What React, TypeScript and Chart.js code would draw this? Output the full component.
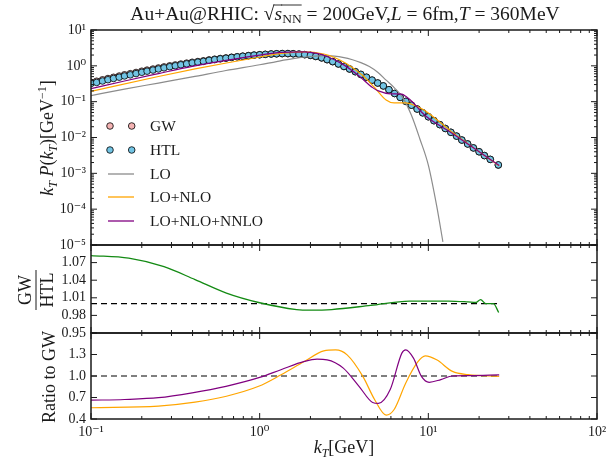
import React, { useEffect, useRef } from 'react';
import { Chart, registerables } from 'chart.js';

Chart.register(...registerables);

const SERIF = "'Liberation Serif', 'DejaVu Serif', serif";
const INK = '#1a1a1a';

// ---------- data ----------
const kT = [0.100, 0.108, 0.117, 0.126, 0.136, 0.147, 0.158, 0.171, 0.185, 0.200, 0.215, 0.233, 0.251, 0.271, 0.293, 0.316, 0.341, 0.369, 0.398, 0.430, 0.464, 0.501, 0.541, 0.584, 0.631, 0.681, 0.736, 0.794, 0.858, 0.926, 1.00, 1.08, 1.17, 1.26, 1.36, 1.47, 1.58, 1.71, 1.85, 2.00, 2.15, 2.33, 2.51, 2.71, 2.93, 3.16, 3.41, 3.69, 3.98, 4.30, 4.64, 5.01, 5.41, 5.84, 6.31, 6.81, 7.36, 7.94, 8.58, 9.26, 10.0, 10.8, 11.7, 12.6, 13.6, 14.7, 15.8, 17.1, 18.5, 20.0, 21.5, 23.3, 26.0];
const gw = [0.347, 0.372, 0.407, 0.442, 0.479, 0.519, 0.562, 0.603, 0.653, 0.708,
  0.759, 0.813, 0.871, 0.933, 1.000, 1.059, 1.122, 1.189, 1.259, 1.318,
  1.380, 1.462, 1.531, 1.603, 1.660, 1.738, 1.799, 1.862, 1.928, 1.995,
  2.042, 2.089, 2.138, 2.163, 2.188, 2.188, 2.163, 2.113, 2.042, 1.950,
  1.820, 1.660, 1.479, 1.303, 1.122, 0.955, 0.813, 0.684, 0.575, 0.479,
  0.398, 0.331, 0.275, 0.216, 0.169, 0.132, 0.102, 0.0800, 0.0625, 0.0490,
  0.0380, 0.0295, 0.0229, 0.0179, 0.0140, 0.01096, 0.00851, 0.00661, 0.00513, 0.00401,
  0.00313, 0.00245, 0.00170];
const htl = [0.3207, 0.3441, 0.3769, 0.4096, 0.4441, 0.4814, 0.5215, 0.5599, 0.6074, 0.6598,
  0.7087, 0.7612, 0.8171, 0.8777, 0.9443, 1.0038, 1.0676, 1.1356, 1.2071, 1.2685,
  1.3333, 1.4180, 1.4907, 1.5670, 1.6306, 1.7123, 1.7794, 1.8472, 1.9165, 1.9871,
  2.0379, 2.0911, 2.1444, 2.1739, 2.2034, 2.2056, 2.1826, 2.1343, 2.0647, 1.9717,
  1.8402, 1.6768, 1.4939, 1.3162, 1.1322, 0.9627, 0.8187, 0.6881, 0.5779, 0.4809,
  0.3992, 0.3317, 0.2751, 0.2160, 0.1688, 0.1317, 0.1017, 0.07964, 0.06222, 0.04878,
  0.03783, 0.02937, 0.02280, 0.01782, 0.01394, 0.01092, 0.00848, 0.00659, 0.00512, 0.00399,
  0.00313, 0.00245, 0.00172];

const loX = [0.1, 0.158, 0.251, 0.398, 0.631, 1.0, 1.26, 1.58, 2.0, 2.51, 3.16, 3.55, 3.98, 4.47, 5.01, 5.62, 6.31, 7.08, 7.94, 8.91, 10.0, 11.2, 12.2];
const loY = [0.148, 0.224, 0.331, 0.49, 0.741, 1.072, 1.318, 1.585, 1.82, 1.928, 1.70, 1.479, 1.23, 0.955, 0.661, 0.398, 0.24, 0.126, 0.0417, 0.00912, 0.0017, 1.26e-4, 1.23e-5];

const nloX = [0.1, 0.251, 0.414, 0.635, 0.986, 1.34, 1.84, 2.40, 2.82, 3.30, 4.09, 4.80, 5.62, 6.27, 7.35, 8.61, 9.59, 11.2, 13.9, 17.2, 26.3];
const nloY = [0.193, 0.505, 0.818, 1.197, 1.738, 2.228, 2.46, 2.138, 1.66, 1.127, 0.535, 0.249, 0.1117, 0.0923, 0.0931, 0.0733, 0.0555, 0.0318, 0.01384, 0.00664, 0.001626];
const nloRatio = [0.557, 0.58, 0.635, 0.718, 0.856, 1.018, 1.203, 1.35, 1.364, 1.295, 0.995, 0.672, 0.455, 0.533, 0.903, 1.189, 1.28, 1.226, 1.064, 1.018, 0.995];

const nnloX = [0.1, 0.158, 0.251, 0.398, 0.631, 1.0, 1.337, 1.841, 2.188, 2.512, 3.133, 3.882, 4.677, 5.058, 5.943, 6.966, 7.345, 8.166, 9.099, 10.12, 11.86, 13.90, 17.78, 26.3];
const nnloY = [0.2296, 0.3776, 0.607, 0.964, 1.42, 2.0, 2.38, 2.46, 2.22, 1.814, 1.08, 0.522, 0.2466, 0.1995, 0.166, 0.1618, 0.1416, 0.0918, 0.0516, 0.0334, 0.02075, 0.0130, 0.00586, 0.00166];
const nnloRatio = [0.662, 0.672, 0.697, 0.765, 0.856, 0.98, 1.088, 1.203, 1.235, 1.226, 1.11, 0.856, 0.63, 0.617, 0.81, 1.319, 1.365, 1.249, 0.995, 0.912, 0.95, 1.0, 1.005, 1.015];

const ratioX = [0.1, 0.1675, 0.271, 0.414, 0.635, 0.986, 1.656, 1.995, 2.673, 4.55, 7.745, 13.18, 17.18, 19.14, 20.42, 21.88, 24.32, 26.12];
const gwOverHtl = [1.082, 1.0775, 1.063, 1.041, 1.018, 1.002, 0.990, 0.989, 0.990, 0.997, 1.0045, 1.0045, 1.003, 1.002, 1.0068, 1.0, 1.0, 0.985];

const refX = [0.1, 26.3];
const refY = [1, 1];

const xTicks = [0.1, 1, 10, 100];
const xTickLabels = ['10⁻¹', '10⁰', '10¹', '10²'];
const topTicks = [1e-5, 1e-4, 1e-3, 1e-2, 1e-1, 1, 10];
const topTickLabels = ['10⁻⁵', '10⁻⁴', '10⁻³', '10⁻²', '10⁻¹', '10⁰', '10¹'];
const midTicks = [0.95, 0.98, 1.01, 1.04, 1.07, 1.10];
const midTickLabels = ['0.95', '0.98', '1.01', '1.04', '1.07', ''];
const botTicks = [0.4, 0.7, 1.0, 1.3, 1.6];
const botTickLabels = ['0.4', '0.7', '1.0', '1.3', ''];

const C_GW = '#f4b3b3';
const C_HTL = '#72c4e4';
const C_LO = '#8c8c8c';
const C_NLO = '#ffa500';
const C_NNLO = '#800080';
const C_GREEN = '#138a13';

// ---------- helpers ----------
const xy = (xs: number[], ys: number[]) => xs.map((x, i) => ({ x, y: ys[i] }));

type Piece = { t: string; s: number; it?: boolean; dy?: number; over?: boolean };
const fontOf = (p: Piece) => `${p.it ? 'italic ' : ''}${p.s}px ${SERIF}`;

function drawRich(ctx: CanvasRenderingContext2D, pieces: Piece[], cx: number, baseY: number, overY?: number) {
  const widths = pieces.map((p) => { ctx.font = fontOf(p); return ctx.measureText(p.t).width; });
  const total = widths.reduce((a, b) => a + b, 0);
  let x = cx - total / 2;
  ctx.textAlign = 'left';
  ctx.textBaseline = 'alphabetic';
  ctx.fillStyle = INK;
  pieces.forEach((p, i) => {
    ctx.font = fontOf(p);
    ctx.fillText(p.t, x, baseY + (p.dy || 0));
    if (p.over && overY !== undefined) {
      ctx.save();
      ctx.strokeStyle = INK; ctx.lineWidth = 0.9;
      ctx.beginPath(); ctx.moveTo(x - 1, baseY - overY); ctx.lineTo(x + widths[i], baseY - overY); ctx.stroke();
      ctx.restore();
    }
    x += widths[i];
  });
}

function minorLog(lo: number, hi: number) {
  const out: number[] = [];
  for (let e = lo; e < hi; e++) for (let k = 2; k <= 9; k++) out.push(k * Math.pow(10, e));
  return out;
}

function framePlugin(yMajor: number[], yMinor: number[]) {
  return {
    id: 'frame',
    afterDatasetsDraw(chart: any) {
      const { ctx, chartArea: a, scales } = chart;
      const xs = scales.x, ys = scales.y;
      ctx.save();
      ctx.strokeStyle = INK;
      ctx.lineWidth = 1;
      const seg = (x1: number, y1: number, x2: number, y2: number) => { ctx.beginPath(); ctx.moveTo(x1, y1); ctx.lineTo(x2, y2); ctx.stroke(); };
      const xt = (v: number, len: number) => {
        const p = xs.getPixelForValue(v);
        seg(p, a.bottom, p, a.bottom - len); seg(p, a.top, p, a.top + len);
      };
      const yt = (v: number, len: number) => {
        const p = ys.getPixelForValue(v);
        seg(a.left, p, a.left + len, p); seg(a.right, p, a.right - len, p);
      };
      xTicks.forEach((v) => xt(v, 6));
      minorLog(-1, 2).forEach((v) => xt(v, 3));
      yMajor.forEach((v) => yt(v, 6));
      yMinor.forEach((v) => yt(v, 3));
      ctx.lineWidth = 1.5;
      ctx.strokeRect(a.left, a.top, a.right - a.left, a.bottom - a.top);
      ctx.restore();
    },
  };
}

function xScale(show: boolean) {
  return {
    type: 'logarithmic', min: 0.1, max: 100, display: show,
    grid: { display: false, drawTicks: false }, border: { display: false },
    afterBuildTicks: (s: any) => { s.ticks = xTicks.map((v) => ({ value: v })); },
    afterFit: (s: any) => { s.height = show ? 40 : 0; },
    ticks: {
      font: { family: SERIF, size: 14 }, color: INK, padding: 5, autoSkip: false, maxRotation: 0,
      callback: (_v: any, i: number) => xTickLabels[i],
    },
  };
}

function yScale(type: string, min: number, max: number, ticks: number[], labels: string[]) {
  return {
    type, min, max,
    grid: { display: false, drawTicks: false }, border: { display: false },
    afterBuildTicks: (s: any) => { s.ticks = ticks.map((v) => ({ value: v })); },
    afterFit: (s: any) => { s.width = 91; },
    ticks: {
      font: { family: SERIF, size: 14 }, color: INK, padding: 5, autoSkip: false,
      callback: (_v: any, i: number) => labels[i],
    },
  };
}

function baseOptions(padding: any, scales: any) {
  return {
    responsive: false, animation: false, devicePixelRatio: 1, events: [],
    layout: { padding },
    plugins: { legend: { display: false }, tooltip: { enabled: false }, title: { display: false } },
    scales,
  };
}

const lineDs = (label: string, data: any[], color: string, width = 1.2, order = 0, dash: number[] = []) => ({
  label, data, borderColor: color, backgroundColor: color, borderWidth: width, pointRadius: 0,
  cubicInterpolationMode: 'monotone', fill: false, order, borderDash: dash,
});
const pointDs = (label: string, data: any[], color: string, order: number) => ({
  label, data, showLine: false, pointRadius: 3.3, pointBorderWidth: 0.8,
  pointBackgroundColor: color, pointBorderColor: '#000', borderColor: '#000', backgroundColor: color, order,
});

// ---------- text plugins ----------
const topText = {
  id: 'topText',
  afterDraw(chart: any) {
    const ctx: CanvasRenderingContext2D = chart.ctx;
    ctx.save();
    // title
    drawRich(ctx, [
      { t: 'Au+Au@RHIC: ', s: 19.5 },
      { t: '√', s: 19.5 },
      { t: 's', s: 19.5, it: true, over: true },
      { t: 'NN', s: 13.5, dy: 3, over: true },
      { t: ' = 200GeV,', s: 19.5 },
      { t: 'L', s: 19.5, it: true },
      { t: ' = 6fm,', s: 19.5 },
      { t: 'T', s: 19.5, it: true },
      { t: ' = 360MeV', s: 19.5 },
    ], 345, 20, 15);
    // legend
    const mk = (x: number, y: number, c: string) => {
      ctx.beginPath(); ctx.arc(x, y, 3.3, 0, Math.PI * 2); ctx.fillStyle = c; ctx.fill();
      ctx.lineWidth = 0.8; ctx.strokeStyle = '#000'; ctx.stroke();
    };
    mk(110, 126, C_GW); mk(131.7, 126, C_GW);
    mk(110, 150, C_HTL); mk(131.7, 150, C_HTL);
    const ln = (y: number, c: string) => {
      ctx.beginPath(); ctx.moveTo(108, y); ctx.lineTo(134, y); ctx.strokeStyle = c; ctx.lineWidth = 1.3; ctx.stroke();
    };
    ln(174, C_LO); ln(197, C_NLO); ln(221, C_NNLO);
    ctx.fillStyle = INK; ctx.font = `15.5px ${SERIF}`; ctx.textAlign = 'left'; ctx.textBaseline = 'middle';
    [['GW', 126], ['HTL', 150], ['LO', 174], ['LO+NLO', 197], ['LO+NLO+NNLO', 221]].forEach(([t, y]) => {
      ctx.fillText(t as string, 150, (y as number) + 1);
    });
    // y title
    ctx.translate(53, 138);
    ctx.rotate(-Math.PI / 2);
    drawRich(ctx, [
      { t: 'k', s: 18, it: true },
      { t: 'T', s: 12, it: true, dy: 4 },
      { t: ' P', s: 18, it: true },
      { t: '(', s: 18 },
      { t: 'k', s: 18, it: true },
      { t: 'T', s: 12, it: true, dy: 4 },
      { t: ')[GeV', s: 18 },
      { t: '−1', s: 12, dy: -7 },
      { t: ']', s: 18 },
    ], 0, 0);
    ctx.restore();
  },
};

const midText = {
  id: 'midText',
  afterDraw(chart: any) {
    const ctx: CanvasRenderingContext2D = chart.ctx;
    ctx.save();
    ctx.translate(36, 290);
    ctx.rotate(-Math.PI / 2);
    drawRich(ctx, [{ t: 'GW', s: 18 }], 0, -5);
    ctx.strokeStyle = INK; ctx.lineWidth = 1;
    ctx.beginPath(); ctx.moveTo(-20, 0); ctx.lineTo(20, 0); ctx.stroke();
    drawRich(ctx, [{ t: 'HTL', s: 18 }], 0, 17);
    ctx.restore();
  },
};

const botText = {
  id: 'botText',
  afterDraw(chart: any) {
    const ctx: CanvasRenderingContext2D = chart.ctx;
    ctx.save();
    drawRich(ctx, [
      { t: 'k', s: 18, it: true },
      { t: 'T', s: 12, it: true, dy: 4 },
      { t: '[GeV]', s: 18 },
    ], 344, 453);
    ctx.translate(55, 377);
    ctx.rotate(-Math.PI / 2);
    drawRich(ctx, [{ t: 'Ratio to GW', s: 18 }], 0, 0);
    ctx.restore();
  },
};

// ---------- configs ----------
function cfgTop(): any {
  return {
    type: 'line',
    data: {
      datasets: [
        lineDs('LO+NLO+NNLO', xy(nnloX, nnloY), C_NNLO, 1.2, 0),
        lineDs('LO+NLO', xy(nloX, nloY), C_NLO, 1.2, 0),
        lineDs('LO', xy(loX, loY), C_LO, 1.2, 0),
        pointDs('HTL', xy(kT, htl), C_HTL, 1),
        pointDs('GW', xy(kT, gw), C_GW, 2),
      ],
    },
    options: baseOptions({ left: 0, right: 16, top: 30, bottom: 214 }, {
      x: xScale(false),
      y: yScale('logarithmic', 1e-5, 10, topTicks, topTickLabels),
    }),
    plugins: [framePlugin(topTicks, minorLog(-5, 1)), topText],
  };
}

function cfgMid(): any {
  return {
    type: 'line',
    data: {
      datasets: [
        lineDs('GW/HTL', xy(ratioX, gwOverHtl), C_GREEN, 1.3, 0),
        lineDs('ref', xy(refX, refY), '#000', 1.2, 1, [6, 4]),
      ],
    },
    options: baseOptions({ left: 0, right: 16, top: 245, bottom: 126 }, {
      x: xScale(false),
      y: yScale('linear', 0.95, 1.10, midTicks, midTickLabels),
    }),
    plugins: [framePlugin(midTicks, []), midText],
  };
}

function cfgBot(): any {
  return {
    type: 'line',
    data: {
      datasets: [
        lineDs('LO+NLO+NNLO', xy(nnloX, nnloRatio), C_NNLO, 1.2, 0),
        lineDs('LO+NLO', xy(nloX, nloRatio), C_NLO, 1.2, 0),
        lineDs('ref', xy(refX, refY), '#000', 1.2, 1, [6, 4]),
      ],
    },
    options: baseOptions({ left: 0, right: 16, top: 333, bottom: 0 }, {
      x: xScale(true),
      y: yScale('linear', 0.4, 1.6, botTicks, botTickLabels),
    }),
    plugins: [framePlugin(botTicks, []), botText],
  };
}

export default function App() {
  const r1 = useRef<HTMLCanvasElement>(null);
  const r2 = useRef<HTMLCanvasElement>(null);
  const r3 = useRef<HTMLCanvasElement>(null);
  useEffect(() => {
    const charts = [
      new Chart(r1.current as HTMLCanvasElement, cfgTop()),
      new Chart(r2.current as HTMLCanvasElement, cfgMid()),
      new Chart(r3.current as HTMLCanvasElement, cfgBot()),
    ];
    return () => charts.forEach((c) => c.destroy());
  }, []);
  const st: React.CSSProperties = { position: 'absolute', left: 0, top: 0, width: 613, height: 459 };
  return (
    <div style={{ position: 'absolute', left: 0, top: 0, width: 613, height: 459, background: '#fff' }}>
      <canvas ref={r1} width={613} height={459} style={st} />
      <canvas ref={r2} width={613} height={459} style={st} />
      <canvas ref={r3} width={613} height={459} style={st} />
    </div>
  );
}
